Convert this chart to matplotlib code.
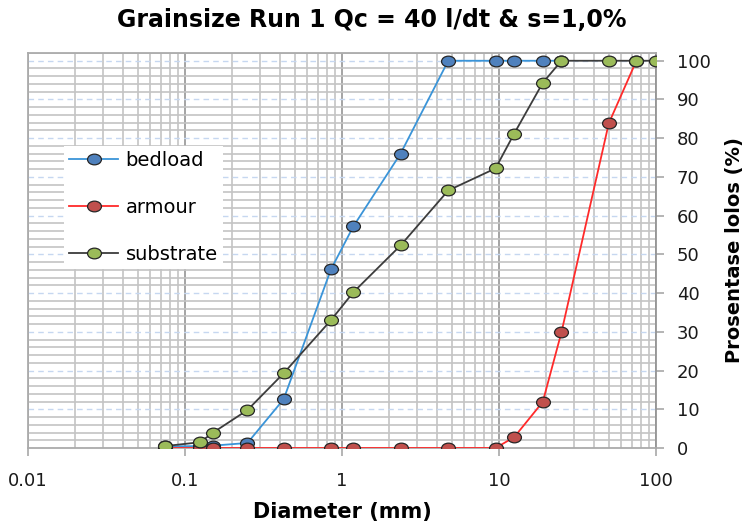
import matplotlib
matplotlib.use("Agg")
import matplotlib.pyplot as plt
from matplotlib.path import Path
from matplotlib.ticker import LogLocator, MultipleLocator, FixedLocator, FixedFormatter, NullFormatter

# Sieve sizes (mm) and cumulative percent passing for each sample
sieve_mm = [0.075, 0.125, 0.15, 0.25, 0.425, 0.85, 1.18, 2.36, 4.75,
            9.5, 12.5, 19, 25, 50, 75, 100]

bedload_mm = sieve_mm[:13]
bedload_pct = [0.4, 0.5, 0.6, 1.3, 12.6, 46.1, 57.2, 76.0, 100, 100, 100, 100, 100]

armour_mm = sieve_mm[:15]
armour_pct = [0, 0, 0, 0, 0, 0, 0, 0, 0, 0, 2.8, 11.9, 29.9, 83.8, 100]

substrate_mm = sieve_mm
substrate_pct = [0.5, 1.5, 3.9, 9.8, 19.3, 33.0, 40.2, 52.3, 66.5, 72.2,
                 81.2, 94.3, 100, 100, 100, 100]

x_ticks = [0.01, 0.1, 1, 10, 100]
x_tick_labels = ["0.01", "0.1", "1", "10", "100"]
y_ticks = list(range(0, 101, 10))

series = [
    ("bedload", bedload_mm, bedload_pct, "#3a94d8", "#4f81bd"),
    ("armour", armour_mm, armour_pct, "#ff2a2a", "#c0504d"),
    ("substrate", substrate_mm, substrate_pct, "#3c3c3c", "#9bbb59"),
]

plt.rcParams["font.family"] = ["DejaVu Sans"]

# slightly wide oval marker
circ = Path.unit_circle()
oval = Path(circ.vertices * [1.3, 1.0], circ.codes)

fig = plt.figure(figsize=(7.52, 5.26), dpi=100)
ax = fig.add_axes([28 / 752, 78 / 526, 628 / 752, 395 / 526])

for name, xs, ys, lc, fc in series:
    ax.plot(xs, ys, color=lc, lw=1.3, marker=oval, ms=10,
            markerfacecolor=fc, markeredgecolor="#262626", markeredgewidth=0.9,
            label=name, zorder=3)

ax.set_xscale("log")
ax.set_xlim(0.01, 100)
ax.set_ylim(0, 102)

ax.xaxis.set_major_locator(FixedLocator(x_ticks))
ax.xaxis.set_major_formatter(FixedFormatter(x_tick_labels))
ax.xaxis.set_minor_locator(LogLocator(base=10, subs=range(2, 10)))
ax.xaxis.set_minor_formatter(NullFormatter())

ax.yaxis.tick_right()
ax.yaxis.set_label_position("right")
ax.yaxis.set_major_locator(FixedLocator(y_ticks))
ax.yaxis.set_minor_locator(MultipleLocator(2))

# grid: grey vertical lines, grey minor horizontals, dashed blue majors
ax.grid(which="major", axis="x", color="#959595", lw=1.2)
ax.grid(which="minor", axis="x", color="#c4c4c4", lw=1.2)
ax.grid(which="minor", axis="y", color="#c4c4c4", lw=1.2)
ax.grid(which="major", axis="y", color="#c6d7f0", lw=1.0, ls=(0, (4, 3)))
ax.set_axisbelow(True)

for s in ax.spines.values():
    s.set_color("#ababab")
    s.set_linewidth(1.3)
ax.spines["right"].set_color("#959595")

ax.tick_params(which="major", length=6, width=1.2, color="#a8a8a8",
               labelsize=13, labelcolor="#1a1a1a")
ax.tick_params(which="minor", length=0)
ax.tick_params(axis="x", pad=11)
ax.tick_params(axis="y", pad=9)

ax.set_xlabel("Diameter (mm)", fontsize=15, fontweight="bold", labelpad=9)
ax.set_ylabel("Prosentase lolos (%)", fontsize=14, fontweight="bold", labelpad=10)

fig.text(372 / 752, 1 - 20 / 526, "Grainsize Run 1 Qc = 40 l/dt & s=1,0%",
         ha="center", va="center", fontsize=17, fontweight="bold")

leg = ax.legend(loc="upper left", bbox_to_anchor=(0.058, 0.765),
                fontsize=14, frameon=True, fancybox=False, framealpha=1,
                edgecolor="none", facecolor="white", handlelength=2.5,
                handletextpad=0.4, labelspacing=1.45, borderpad=0.25,
                borderaxespad=0)

fig.savefig("out.png", dpi=100)
